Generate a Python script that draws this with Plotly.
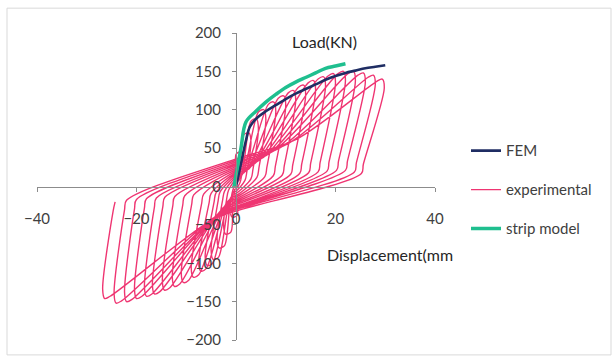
import plotly.graph_objects as go

# ---------------- data ----------------
x_ticks = [-40, -20, 0, 20, 40]
y_ticks = [-200, -150, -100, -50, 0, 50, 100, 150, 200]

# FEM curve
fem_d = [0, 1, 2, 2.8, 4, 6, 8, 10, 12, 14, 16, 18, 20, 22, 24, 26, 28, 30]
fem_f = [0, 30, 60, 78, 88, 98, 106, 114, 121, 127, 133, 139, 144, 148, 151, 154, 156, 158]

# strip model curve
strip_d = [-0.4, 0, 1, 2, 4, 6, 8, 10, 12, 14, 16, 18, 20, 22]
strip_f = [0, 15, 50, 84, 98, 110, 120, 129, 136, 142, 148, 154, 157, 160]

# experimental hysteresis: per-cycle key values
pos_peak_d = [1.5, 3, 4.5, 6, 8, 10, 12, 14, 16, 18, 20, 22, 24, 26, 28, 29.8]
pos_peak_f = [45, 70, 88, 100, 110, 118, 125, 132, 138, 143, 147, 150, 150, 148, 145, 140]
pos_knee_d = [0.3, 0.6, 0.9, 1.2, 1.6, 2, 2.6, 3.2, 3.8, 4.6, 5.5, 6.5, 7.5, 9, 10.5, 12]
pos_knee_f = [5, 8, 11, 15, 18, 20, 23, 27, 30, 34, 38, 42, 46, 51, 56, 61]
pos_unl_d = [0.8, 1.8, 3, 4.2, 5.8, 7.5, 9.3, 11, 12.8, 14.6, 16.5, 18.3, 20.2, 22, 23.8, 25.2]
pos_unl_f = [5, 8, 10, 12, 13, 14, 15, 16, 17, 18, 19, 20, 21, 21, 19, 17]
neck_dn = [-3, -6, -9, -12, -14, -16, -18, -20, -22, -24, -26, -27, -28, -29, -30, -32]
neg_knee_d = [-0.3, -0.5, -0.8, -1, -1.3, -1.6, -1.9, -2.2, -2.5, -2.8, -3.1, -3.4, -3.7, -4, -4.5, -5]
neg_knee_f = [-4, -7, -11, -14, -17, -19, -22, -25, -27, -30, -33, -35, -37, -39, -41, -44]
neg_peak_d = [-1.2, -2.5, -3.8, -5, -6.2, -7.5, -9, -11, -12.8, -14.8, -16.8, -18.4, -20.4, -22.4, -24.5, -26.8]
neg_peak_f = [-40, -62, -80, -95, -103, -110, -118, -125, -130, -135, -140, -143, -146, -150, -152, -146]
neg_unl_d = [-0.6, -1.5, -2.3, -3.2, -4, -5, -6.5, -8.5, -10.3, -12.3, -14.3, -16, -18, -20, -22, -24.3]
neg_unl_f = [-4, -5, -6, -7, -8, -9, -10, -11, -12, -13, -14, -15, -16, -17, -18, -20]
neck_up = [4, 6, 9, 12, 14, 16, 18, 20, 22, 24, 26, 28, 30, 32, 34, 36]

# ---------------- build the experimental path ----------------
ex, ey = [0.0], [0.0]
for i in range(len(pos_peak_d)):
    ex += [0, pos_knee_d[i], pos_peak_d[i] - 1.5, pos_peak_d[i] - 0.4, pos_peak_d[i],
           pos_unl_d[i] + 0.4, pos_unl_d[i],
           0, neg_knee_d[i], neg_peak_d[i] + 1.5, neg_peak_d[i] + 0.4, neg_peak_d[i],
           neg_unl_d[i] - 0.4, neg_unl_d[i]]
    ey += [neck_up[i], pos_knee_f[i], pos_peak_f[i] - 3, pos_peak_f[i], pos_peak_f[i] - 12,
           pos_unl_f[i] + 12, pos_unl_f[i],
           neck_dn[i], neg_knee_f[i], neg_peak_f[i] + 3, neg_peak_f[i], neg_peak_f[i] + 12,
           neg_unl_f[i] - 12, neg_unl_f[i]]

W, H = 614, 360
ML, MR, MT, MB = 37, 179, 33, 18
PW, PH = W - ML - MR, H - MT - MB


def px(xp):
    return (xp - ML) / PW


def py(yp):
    return (H - MB - yp) / PH


FONT = "Lato"
TXT = "#404040"
AX = "#8c8c8c"

fig = go.Figure()
fig.add_trace(go.Scatter(
    x=ex, y=ey, mode="lines", name="experimental",
    line=dict(color="#ef3572", width=1.4, shape="spline", smoothing=0.9),
    legendgroup="b", legendrank=2))
fig.add_trace(go.Scatter(
    x=fem_d, y=fem_f, mode="lines", name="FEM",
    line=dict(color="#1f2d63", width=2.6, shape="spline"),
    legendgroup="a", legendrank=1))
fig.add_trace(go.Scatter(
    x=strip_d, y=strip_f, mode="lines", name="strip model",
    line=dict(color="#1fbf8f", width=3.5, shape="spline"),
    legendgroup="c", legendrank=3))

axis_common = dict(
    showgrid=False, zeroline=False, showline=True, linecolor=AX, linewidth=1,
    ticks="outside", ticklen=4, tickcolor=AX, tickwidth=1,
    tickfont=dict(family=FONT, size=15, color=TXT),
    anchor="free", position=0.5, domain=[0, 1],
)

fig.update_layout(
    width=W, height=H,
    margin=dict(l=ML, r=MR, t=MT, b=MB),
    paper_bgcolor="white", plot_bgcolor="white",
    font=dict(family=FONT, color=TXT),
    xaxis=dict(range=[-40, 40], tickvals=x_ticks, ticklabelstandoff=14, **axis_common),
    yaxis=dict(range=[-200, 200], tickvals=y_ticks, ticklabelstandoff=8, **axis_common),
    showlegend=True,
    legend=dict(x=px(466), y=py(135), xanchor="left", yanchor="top",
                font=dict(family=FONT, size=15, color=TXT),
                tracegroupgap=16.5, bgcolor="rgba(0,0,0,0)", itemwidth=30),
    annotations=[
        dict(text="Load(KN)", x=px(290), y=py(42), xref="paper", yref="paper",
             xanchor="left", yanchor="middle", showarrow=False,
             font=dict(family=FONT, size=16, color="#262626")),
        dict(text="Displacement(mm", x=px(325), y=py(256), xref="paper", yref="paper",
             xanchor="left", yanchor="middle", showarrow=False,
             font=dict(family=FONT, size=16, color="#262626")),
    ],
    shapes=[
        dict(type="rect", xref="paper", yref="paper",
             x0=px(7), x1=px(611), y0=py(357), y1=py(8),
             line=dict(color="#d9d9d9", width=1), layer="below"),
    ],
)

fig.write_html("out.html")
